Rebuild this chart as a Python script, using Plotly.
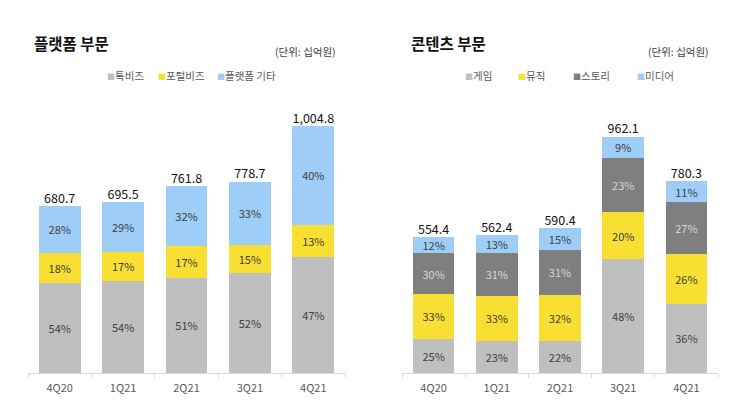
import plotly.graph_objects as go

W, H = 743, 402
FONT = "Noto Sans CJK KR"

quarters = ["4Q20", "1Q21", "2Q21", "3Q21", "4Q21"]

# Platform segment
platform_total = [680.7, 695.5, 761.8, 778.7, 1004.8]
platform_names = ["톡비즈", "포털비즈", "플랫폼 기타"]
talkbiz_pct = [54, 54, 51, 52, 47]
portal_pct = [18, 17, 17, 15, 13]
platform_etc_pct = [28, 29, 32, 33, 40]

# Content segment
content_total = [554.4, 562.4, 590.4, 962.1, 780.3]
content_names = ["게임", "뮤직", "스토리", "미디어"]
game_pct = [25, 23, 22, 48, 36]
music_pct = [33, 33, 32, 20, 26]
story_pct = [30, 31, 31, 23, 27]
media_pct = [12, 13, 15, 9, 11]

GRAY = "#BFBFBF"
YELLOW = "#F8DF32"
BLUE = "#9ECDF8"
DARK = "#7F7F7F"

fig = go.Figure()


def add_stack(pcts, names, colors, textcolors, totals, xa, ya):
    for pct, name, col, tcol in zip(pcts, names, colors, textcolors):
        vals = [t * p / 100 for t, p in zip(totals, pct)]
        fig.add_trace(go.Bar(
            x=quarters, y=vals, name=name, marker=dict(color=col, line=dict(width=0)),
            text=[f"{p}%" for p in pct], textposition="inside", insidetextanchor="middle",
            textangle=0, constraintext="none",
            textfont=dict(family=FONT, size=11, color=tcol),
            xaxis=xa, yaxis=ya, showlegend=False, hoverinfo="skip",
        ))
    fig.add_trace(go.Scatter(
        x=quarters, y=totals, mode="text",
        text=[f"{t:,.1f}" for t in totals], textposition="top center",
        textfont=dict(family=FONT, size=12.5, color="#111111"),
        xaxis=xa, yaxis=ya, showlegend=False, hoverinfo="skip", cliponaxis=False,
    ))


add_stack([talkbiz_pct, portal_pct, platform_etc_pct], platform_names,
          [GRAY, YELLOW, BLUE], ["#404040", "#404040", "#404040"],
          platform_total, "x", "y")
add_stack([game_pct, music_pct, story_pct, media_pct], content_names,
          [GRAY, YELLOW, DARK, BLUE], ["#404040", "#404040", "#D6D6D6", "#404040"],
          content_total, "x2", "y2")

ybot = (H - 373) / H
ytop = (H - 110) / H

xax = dict(showgrid=False, zeroline=False, showline=True, linecolor="#D9D9D9", linewidth=1,
           ticks="outside", tickson="boundaries", ticklen=4, tickcolor="#D9D9D9",
           ticklabelstandoff=5,
           tickfont=dict(family=FONT, size=11, color="#595959"), fixedrange=True)
yax = dict(range=[0, 1070], visible=False, fixedrange=True)

fig.update_layout(
    width=W, height=H, margin=dict(l=0, r=0, t=0, b=0),
    paper_bgcolor="white", plot_bgcolor="white",
    barmode="stack", bargap=0.34,
    font=dict(family=FONT),
    xaxis=dict(domain=[28 / W, 345 / W], anchor="y", **xax),
    xaxis2=dict(domain=[402 / W, 718 / W], anchor="y2", **xax),
    yaxis=dict(domain=[ybot, ytop], anchor="x", **yax),
    yaxis2=dict(domain=[ybot, ytop], anchor="x2", **yax),
)

ann = []


def txt(x, y, s, size, color="#000000", anchor="left", bold=False):
    ann.append(dict(x=x / W, y=1 - y / H, xref="paper", yref="paper", text=(f"<b>{s}</b>" if bold else s),
                    showarrow=False, xanchor=anchor, yanchor="middle",
                    font=dict(family=FONT, size=size, color=color)))


txt(32, 43, "플랫폼 부문", 15.5, "#111111", bold=True)
txt(409, 43, "콘텐츠 부문", 15.5, "#111111", bold=True)
txt(338, 51, "(단위: 십억원)", 10.5, "#404040", anchor="right")
txt(711, 51, "(단위: 십억원)", 10.5, "#404040", anchor="right")


def legend_item(x, y, color, label):
    ann.append(dict(x=x / W, y=1 - y / H, xref="paper", yref="paper",
                    text=f"<span style='color:{color};font-size:8px'>■</span>{label}",
                    showarrow=False, xanchor="left", yanchor="middle",
                    font=dict(family=FONT, size=10.5, color="#595959")))


legend_item(105, 75, GRAY, platform_names[0])
legend_item(156, 75, YELLOW, platform_names[1])
legend_item(215, 75, BLUE, platform_names[2])
legend_item(463, 75, GRAY, content_names[0])
legend_item(516, 75, YELLOW, content_names[1])
legend_item(571, 75, DARK, content_names[2])
legend_item(635, 75, BLUE, content_names[3])

fig.update_layout(annotations=ann)
fig.write_html("out.html")
